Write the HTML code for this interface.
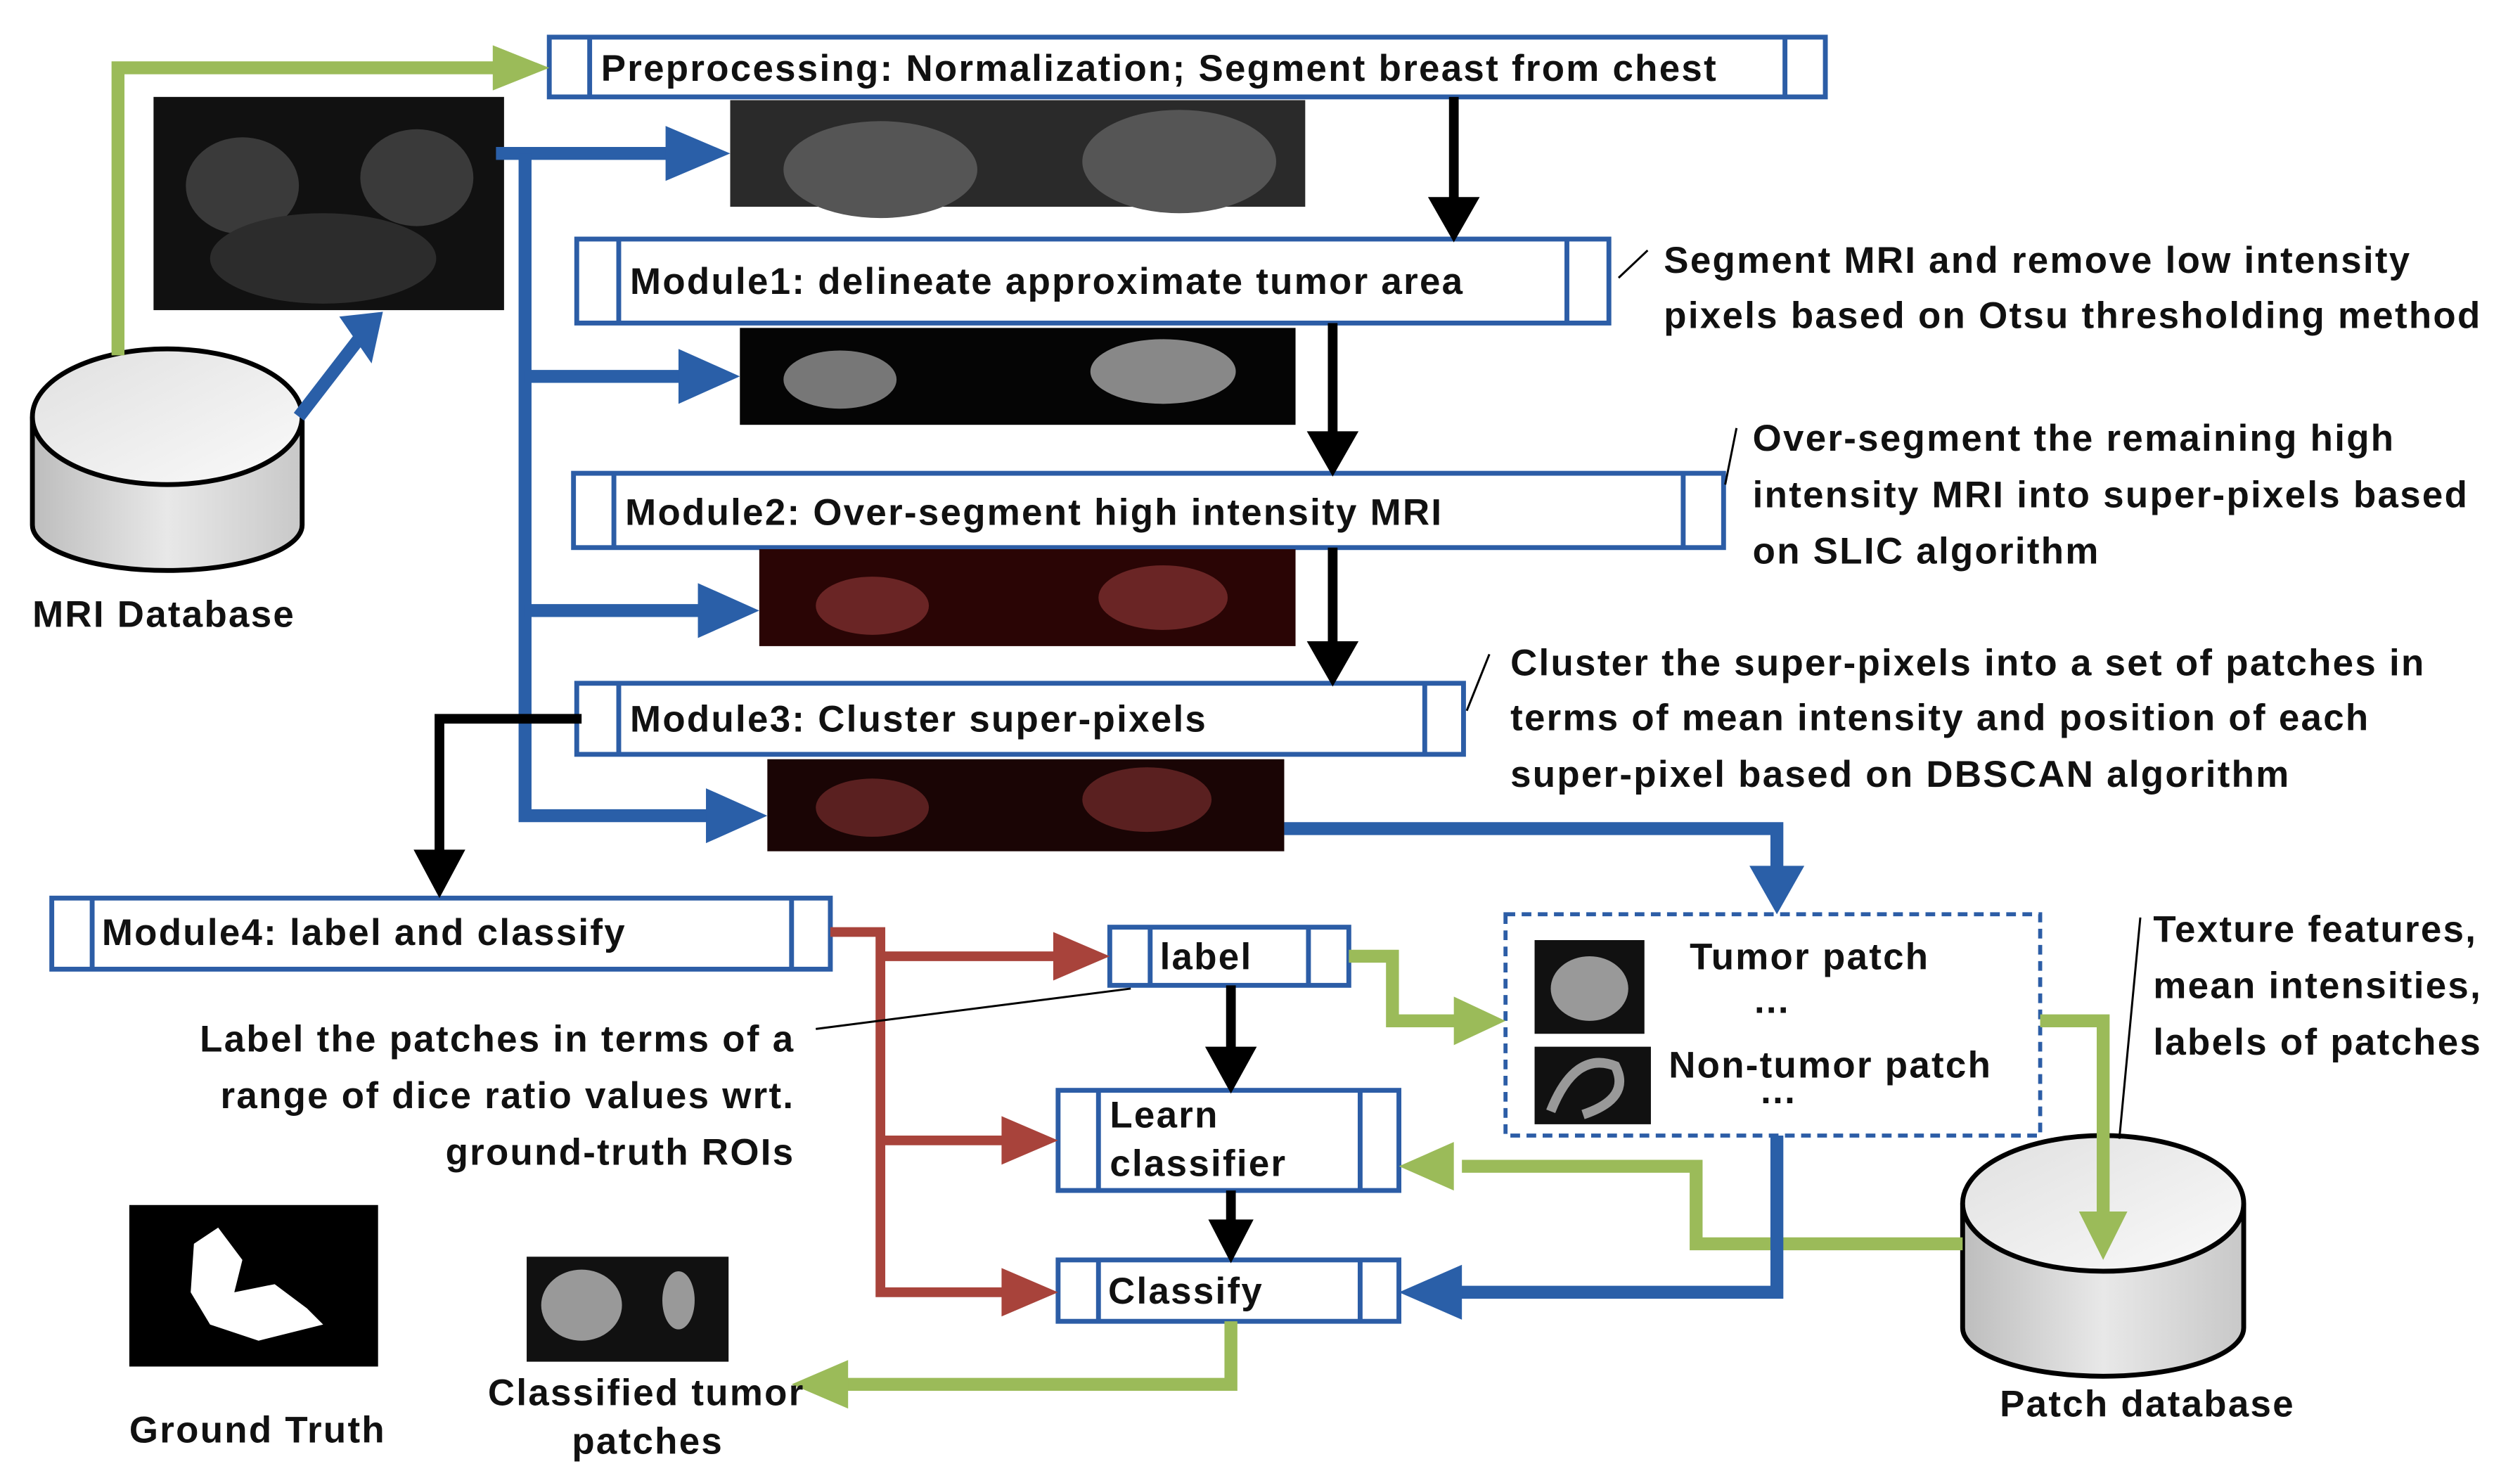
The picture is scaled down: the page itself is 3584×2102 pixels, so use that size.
<!DOCTYPE html>
<html><head><meta charset="utf-8"><style>
html,body{margin:0;padding:0;background:#fff;}
svg{display:block;}
text{font-family:"Liberation Sans",sans-serif;font-weight:bold;fill:#111;}
</style></head><body>
<svg width="3584" height="2102" viewBox="0 0 1560 915" xmlns="http://www.w3.org/2000/svg">
<defs>
<linearGradient id="cyl" x1="0" x2="1" y1="0" y2="0"><stop offset="0" stop-color="#bdbdbd"/><stop offset="0.5" stop-color="#e8e8e8"/><stop offset="1" stop-color="#c8c8c8"/></linearGradient>
<linearGradient id="cyltop" x1="0" x2="1" y1="0" y2="1"><stop offset="0" stop-color="#e0e0e0"/><stop offset="1" stop-color="#fafafa"/></linearGradient>
</defs>
<g fill="#fff" stroke="#2C5DA6" stroke-width="3">
<rect x="340" y="23" width="790" height="37"/><line x1="365" y1="23" x2="365" y2="60"/><line x1="1105" y1="23" x2="1105" y2="60"/>
<rect x="357" y="148" width="639" height="52"/><line x1="383" y1="148" x2="383" y2="200"/><line x1="970" y1="148" x2="970" y2="200"/>
<rect x="355" y="293" width="712" height="46"/><line x1="380" y1="293" x2="380" y2="339"/><line x1="1042" y1="293" x2="1042" y2="339"/>
<rect x="357" y="423" width="549" height="44"/><line x1="383" y1="423" x2="383" y2="467"/><line x1="882" y1="423" x2="882" y2="467"/>
<rect x="32" y="556" width="482" height="44"/><line x1="57" y1="556" x2="57" y2="600"/><line x1="490" y1="556" x2="490" y2="600"/>
<rect x="687" y="574" width="148" height="36"/><line x1="712" y1="574" x2="712" y2="610"/><line x1="810" y1="574" x2="810" y2="610"/>
<rect x="655" y="675" width="211" height="62"/><line x1="680" y1="675" x2="680" y2="737"/><line x1="842" y1="675" x2="842" y2="737"/>
<rect x="655" y="780" width="211" height="38"/><line x1="680" y1="780" x2="680" y2="818"/><line x1="842" y1="780" x2="842" y2="818"/>
<rect x="932" y="566" width="331" height="137" stroke-dasharray="6,4" stroke-width="2.5"/>
</g>
<!-- images -->
<rect x="95" y="60" width="217" height="132" fill="#111"/>
<ellipse cx="150" cy="115" rx="35" ry="30" fill="#3a3a3a"/><ellipse cx="258" cy="110" rx="35" ry="30" fill="#3a3a3a"/><ellipse cx="200" cy="160" rx="70" ry="28" fill="#2c2c2c"/>
<rect x="452" y="62" width="356" height="66" fill="#2a2a2a"/><ellipse cx="545" cy="105" rx="60" ry="30" fill="#555"/><ellipse cx="730" cy="100" rx="60" ry="32" fill="#555"/>
<rect x="458" y="203" width="344" height="60" fill="#050505"/><ellipse cx="520" cy="235" rx="35" ry="18" fill="#777"/><ellipse cx="720" cy="230" rx="45" ry="20" fill="#888"/>
<rect x="470" y="340" width="332" height="60" fill="#2a0505"/><ellipse cx="540" cy="375" rx="35" ry="18" fill="#6a2525"/><ellipse cx="720" cy="370" rx="40" ry="20" fill="#6a2525"/>
<rect x="475" y="470" width="320" height="57" fill="#1a0505"/><ellipse cx="540" cy="500" rx="35" ry="18" fill="#5a2020"/><ellipse cx="710" cy="495" rx="40" ry="20" fill="#5a2020"/>
<rect x="950" y="582" width="68" height="58" fill="#111"/><ellipse cx="984" cy="612" rx="24" ry="20" fill="#999"/>
<rect x="950" y="648" width="72" height="48" fill="#111"/><path d="M960 688 Q975 650 1000 660 Q1010 680 980 690" stroke="#999" stroke-width="6" fill="none"/>
<rect x="80" y="746" width="154" height="100" fill="#000"/><path d="M120 770 L135 760 L150 780 L145 800 L170 795 L190 810 L200 820 L160 830 L130 820 L118 800 Z" fill="#fff"/>
<rect x="326" y="778" width="125" height="65" fill="#111"/><ellipse cx="360" cy="808" rx="25" ry="22" fill="#999"/><ellipse cx="420" cy="805" rx="10" ry="18" fill="#999"/>
<!-- cylinders -->
<path d="M20 258 L20 325 A83 28 0 0 0 187 325 L187 258" fill="url(#cyl)" stroke="#000" stroke-width="3"/>
<ellipse cx="103.5" cy="258" rx="83.5" ry="42" fill="url(#cyltop)" stroke="#000" stroke-width="3"/>
<path d="M1215 745 L1215 822 A87 30 0 0 0 1389 822 L1389 745" fill="url(#cyl)" stroke="#000" stroke-width="3"/>
<ellipse cx="1302" cy="745" rx="87" ry="42" fill="url(#cyltop)" stroke="#000" stroke-width="3"/>
<!-- green arrows -->
<g fill="none" stroke="#9BBB59" stroke-width="8">
<polyline points="73,220 73,42 310,42"/>
<polyline points="835,592 862,592 862,632 905,632"/>
<polyline points="1263,632 1302,632 1302,755"/>
<polyline points="1215,770 1050,770 1050,722 905,722"/>
<polyline points="762,818 762,857 520,857"/>
</g>
<g fill="#9BBB59">
<polygon points="305,28 340,42 305,56"/>
<polygon points="900,617 932,632 900,647"/>
<polygon points="1287,750 1302,780 1317,750"/>
<polygon points="900,707 866,722 900,737"/>
<polygon points="525,842 490,857 525,872"/>
</g>
<!-- blue arrows -->
<g fill="none" stroke="#2A5FA8" stroke-width="8">
<polyline points="307,95 420,95"/>
<polyline points="325,95 325,505 445,505"/>
<line x1="325" y1="233" x2="428" y2="233"/>
<line x1="325" y1="378" x2="440" y2="378"/>
<line x1="185" y1="258" x2="222" y2="210"/>
<polyline points="795,513 1100,513 1100,540"/>
<polyline points="1100,703 1100,800 900,800"/>
</g>
<g fill="#2A5FA8">
<polygon points="412,78 452,95 412,112"/>
<polygon points="420,216 458,233 420,250"/>
<polygon points="432,361 470,378 432,395"/>
<polygon points="437,488 475,505 437,522"/>
<polygon points="210,196 237,193 230,225"/>
<polygon points="1083,536 1100,566 1117,536"/>
<polygon points="905,783 866,800 905,817"/>
</g>
<!-- black arrows -->
<g fill="none" stroke="#000" stroke-width="6">
<line x1="900" y1="60" x2="900" y2="125"/>
<line x1="825" y1="200" x2="825" y2="270"/>
<line x1="825" y1="339" x2="825" y2="400"/>
<line x1="762" y1="610" x2="762" y2="652"/>
<line x1="762" y1="737" x2="762" y2="758"/>
<polyline points="360,445 272,445 272,530"/>
</g>
<g fill="#000">
<polygon points="884,122 900,150 916,122"/>
<polygon points="809,267 825,295 841,267"/>
<polygon points="809,397 825,425 841,397"/>
<polygon points="746,648 762,677 778,648"/>
<polygon points="748,755 762,782 776,755"/>
<polygon points="256,526 272,556 288,526"/>
</g>
<!-- red arrows -->
<g fill="none" stroke="#A8433B" stroke-width="6">
<polyline points="514,577 545,577 545,800 625,800"/>
<line x1="545" y1="592" x2="655" y2="592"/>
<line x1="545" y1="706" x2="625" y2="706"/>
</g>
<g fill="#A8433B">
<polygon points="652,577 687,592 652,607"/>
<polygon points="620,691 655,706 620,721"/>
<polygon points="620,785 655,800 620,815"/>
</g>
<!-- leader lines -->
<g stroke="#000" stroke-width="1.3" fill="none">
<line x1="1002" y1="172" x2="1020" y2="155"/>
<line x1="1068" y1="300" x2="1075" y2="265"/>
<line x1="908" y1="440" x2="922" y2="405"/>
<line x1="505" y1="637" x2="700" y2="612"/>
<line x1="1312" y1="705" x2="1325" y2="568"/>
</g>
<!-- text -->
<g font-size="23" letter-spacing="1">
<text x="372" y="50">Preprocessing: Normalization; Segment breast from chest</text>
<text x="390" y="182">Module1: delineate approximate tumor area</text>
<text x="387" y="325">Module2: Over-segment high intensity MRI</text>
<text x="390" y="453">Module3: Cluster super-pixels</text>
<text x="63" y="585">Module4: label and classify</text>
<text x="718" y="600">label</text>
<text x="687" y="698">Learn</text>
<text x="687" y="728">classifier</text>
<text x="686" y="807">Classify</text>
<text x="1046" y="600">Tumor patch</text>
<text x="1086" y="627">...</text>
<text x="1033" y="667">Non-tumor patch</text>
<text x="1090" y="683">...</text>
<text x="20" y="388">MRI Database</text>
<text x="80" y="893">Ground Truth</text>
<text x="302" y="870">Classified tumor</text>
<text x="354" y="900">patches</text>
<text x="1238" y="877">Patch database</text>
<text x="1030" y="169">Segment MRI and remove low intensity</text>
<text x="1030" y="203">pixels based on Otsu thresholding method</text>
<text x="1085" y="279">Over-segment the remaining high</text>
<text x="1085" y="314">intensity MRI into super-pixels based</text>
<text x="1085" y="349">on SLIC algorithm</text>
<text x="935" y="418">Cluster the super-pixels into a set of patches in</text>
<text x="935" y="452">terms of mean intensity and position of each</text>
<text x="935" y="487">super-pixel based on DBSCAN algorithm</text>
<text x="1333" y="583">Texture features,</text>
<text x="1333" y="618">mean intensities,</text>
<text x="1333" y="653">labels of patches</text>
<text x="492" y="651" text-anchor="end">Label the patches in terms of a</text>
<text x="492" y="686" text-anchor="end">range of dice ratio values wrt.</text>
<text x="492" y="721" text-anchor="end">ground-truth ROIs</text>
</g>
</svg>
</body></html>
